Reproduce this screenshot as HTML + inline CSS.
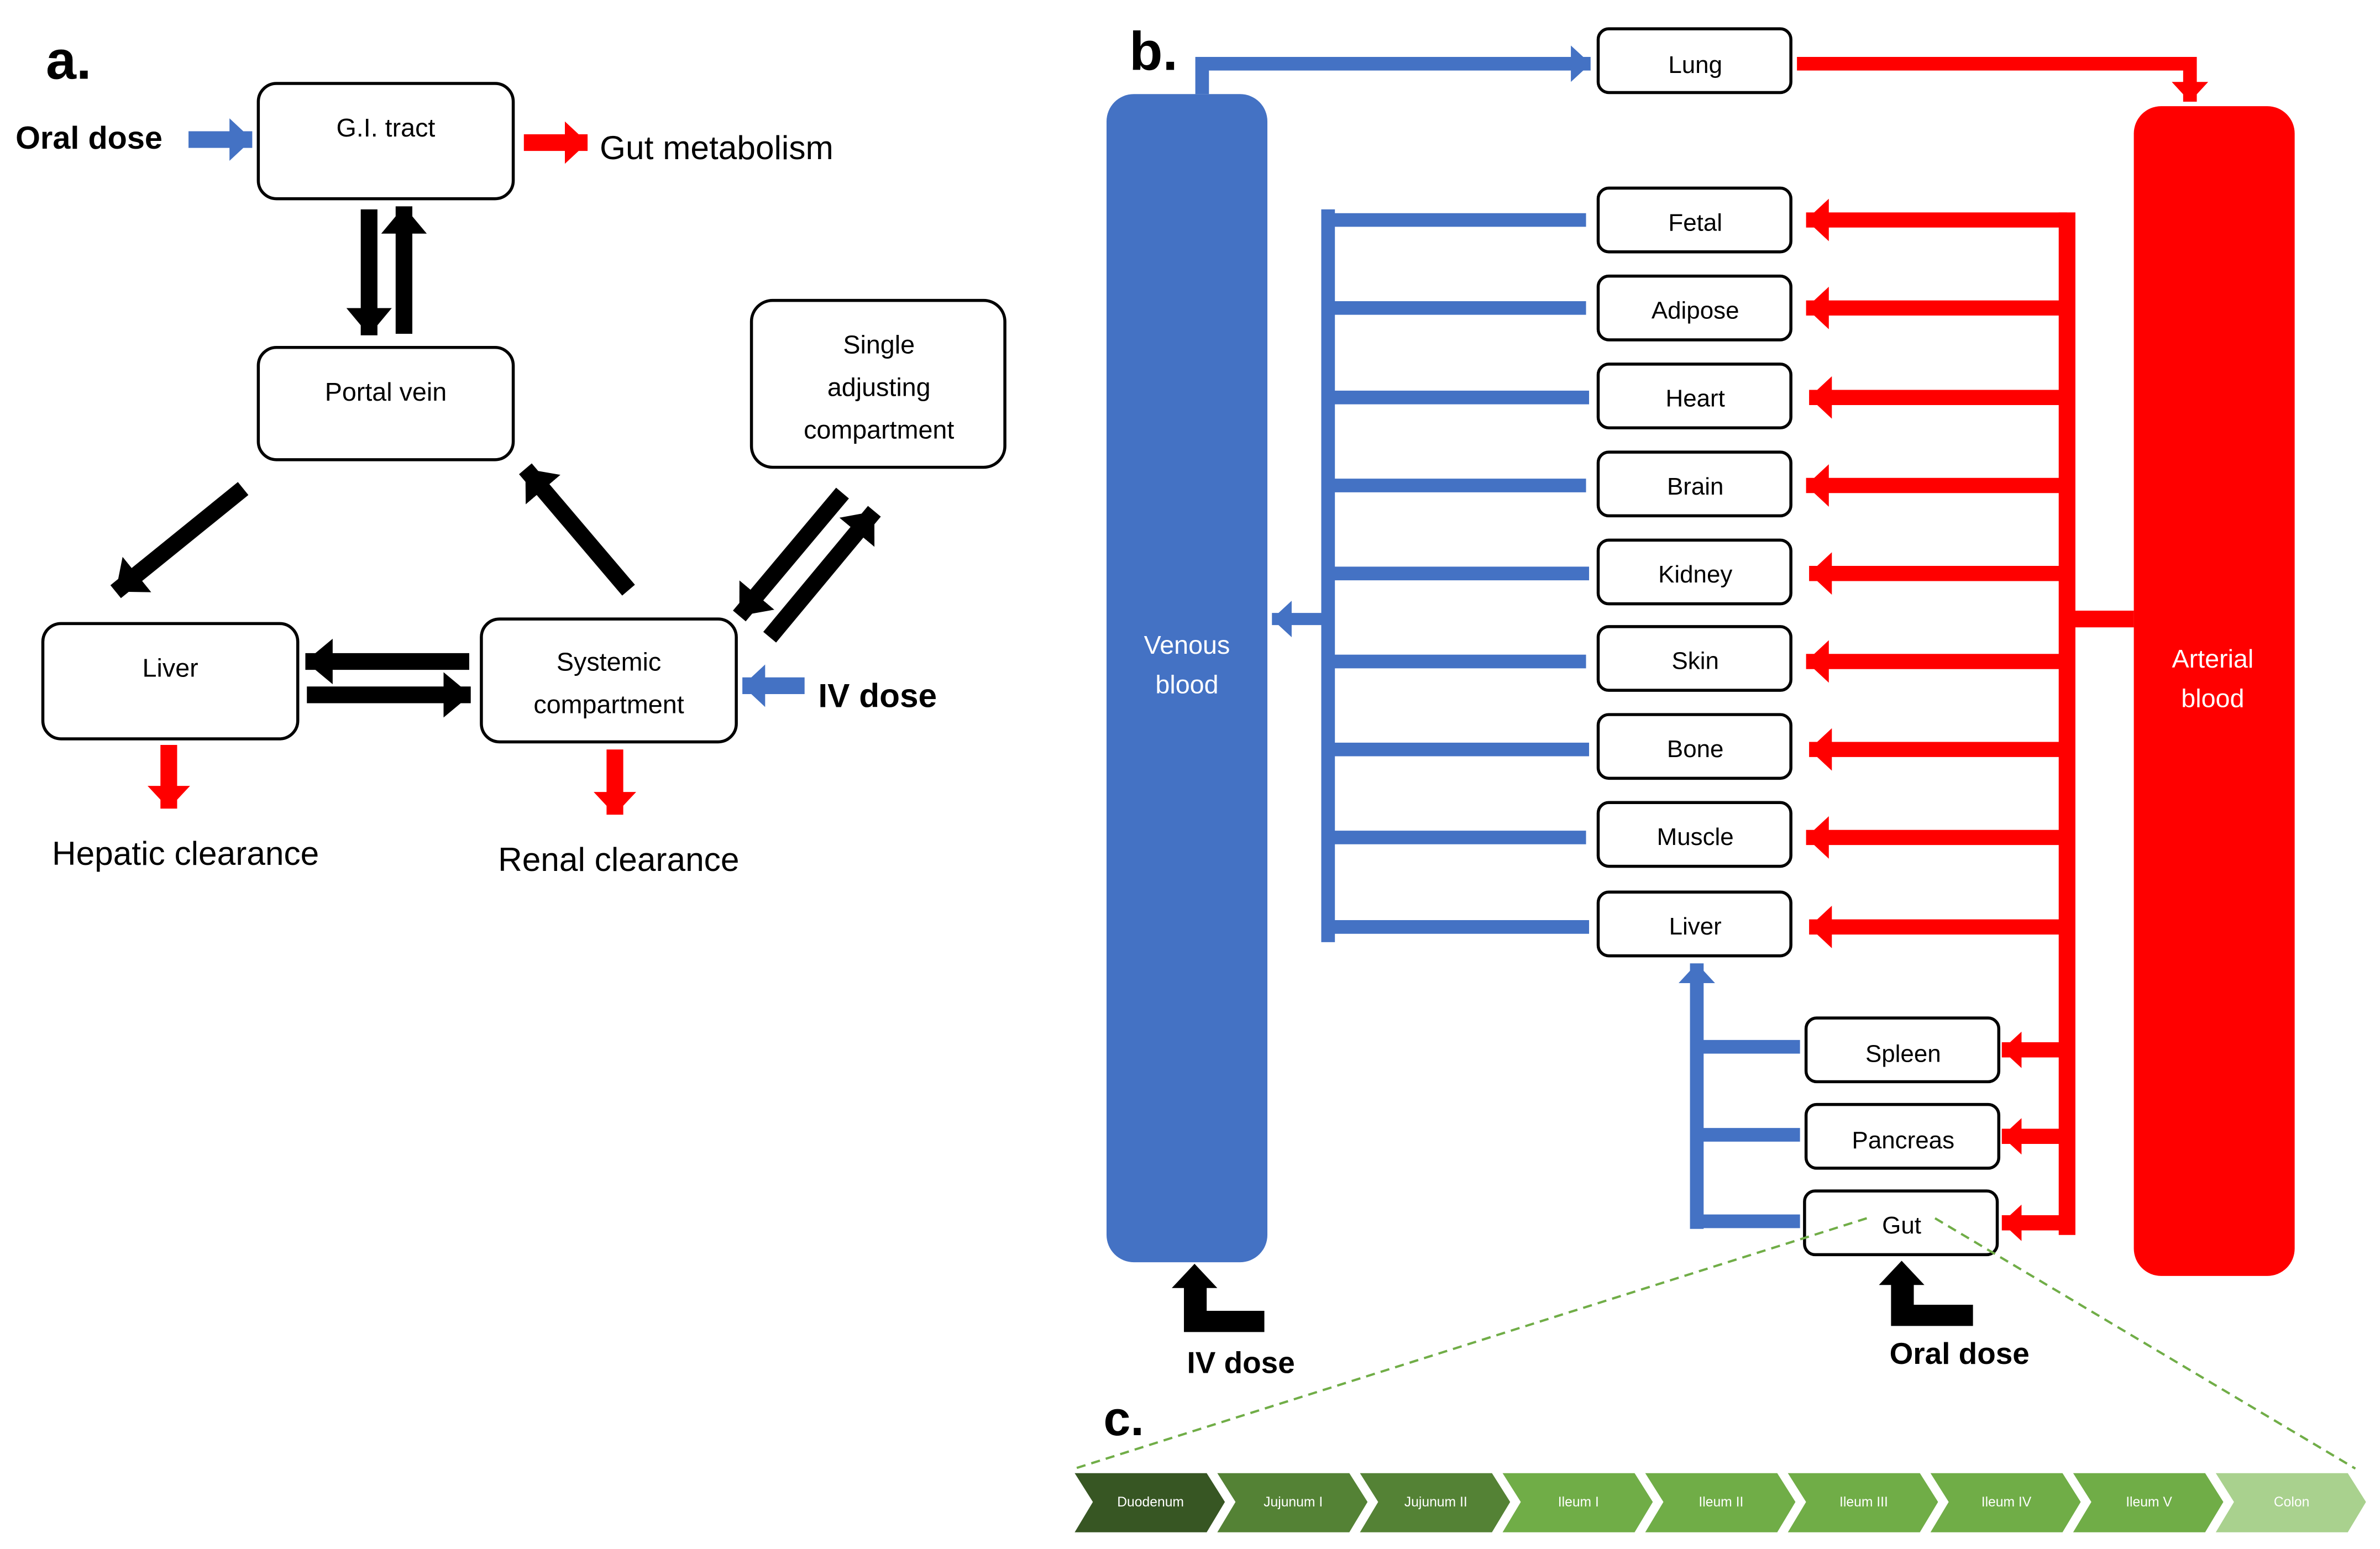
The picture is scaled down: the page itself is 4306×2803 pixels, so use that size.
<!DOCTYPE html>
<html><head><meta charset="utf-8"><style>
html,body{margin:0;padding:0;background:#fff;}
svg{display:block;}
text{font-family:"Liberation Sans","DejaVu Sans",sans-serif;}
</style></head><body>
<svg width="4306" height="2803" viewBox="0 0 1568 1021" xmlns="http://www.w3.org/2000/svg">
<defs>
<marker id="k" markerUnits="userSpaceOnUse" markerWidth="18" markerHeight="30" refX="18" refY="15" orient="auto"><path d="M0,0 L18,15 L0,30z" fill="#000"/></marker>
<marker id="b" markerUnits="userSpaceOnUse" markerWidth="15" markerHeight="28" refX="15" refY="14" orient="auto"><path d="M0,0 L15,14 L0,28z" fill="#4472C4"/></marker>
<marker id="r" markerUnits="userSpaceOnUse" markerWidth="15" markerHeight="28" refX="15" refY="14" orient="auto"><path d="M0,0 L15,14 L0,28z" fill="#FF0000"/></marker>
<marker id="rs" markerUnits="userSpaceOnUse" markerWidth="13" markerHeight="24" refX="13" refY="12" orient="auto"><path d="M0,0 L13,12 L0,24z" fill="#FF0000"/></marker>
<marker id="bs" markerUnits="userSpaceOnUse" markerWidth="13" markerHeight="24" refX="13" refY="12" orient="auto"><path d="M0,0 L13,12 L0,24z" fill="#4472C4"/></marker>
</defs>

<!-- ========== a ========== -->
<text x="30" y="52" font-size="36" font-weight="bold">a.</text>
<text x="10" y="98" font-size="21" font-weight="bold">Oral dose</text>
<line x1="124" y1="92" x2="166" y2="92" stroke="#4472C4" stroke-width="11" marker-end="url(#b)"/>
<rect x="170" y="55" width="168" height="76" rx="12" fill="#fff" stroke="#000" stroke-width="2"/>
<text x="254" y="90" font-size="17" text-anchor="middle">G.I. tract</text>
<line x1="345" y1="94" x2="387" y2="94" stroke="#f00" stroke-width="11" marker-end="url(#r)"/>
<text x="395" y="105" font-size="22">Gut metabolism</text>

<line x1="243" y1="138" x2="243" y2="221" stroke="#000" stroke-width="11" marker-end="url(#k)"/>
<line x1="266" y1="220" x2="266" y2="136" stroke="#000" stroke-width="11" marker-end="url(#k)"/>

<rect x="170" y="229" width="168" height="74" rx="12" fill="#fff" stroke="#000" stroke-width="2"/>
<text x="254" y="264" font-size="17" text-anchor="middle">Portal vein</text>

<rect x="495" y="198" width="167" height="110" rx="14" fill="#fff" stroke="#000" stroke-width="2"/>
<text x="579" y="233" font-size="17" text-anchor="middle">Single</text>
<text x="579" y="261" font-size="17" text-anchor="middle">adjusting</text>
<text x="579" y="289" font-size="17" text-anchor="middle">compartment</text>

<line x1="160" y1="322" x2="76" y2="390" stroke="#000" stroke-width="11" marker-end="url(#k)"/>
<line x1="414" y1="389" x2="346" y2="309" stroke="#000" stroke-width="11" marker-end="url(#k)"/>
<line x1="555" y1="325" x2="487" y2="406" stroke="#000" stroke-width="11" marker-end="url(#k)"/>
<line x1="507" y1="420" x2="576" y2="337" stroke="#000" stroke-width="11" marker-end="url(#k)"/>

<rect x="28" y="411" width="168" height="76" rx="12" fill="#fff" stroke="#000" stroke-width="2"/>
<text x="112" y="446" font-size="17" text-anchor="middle">Liver</text>
<rect x="317" y="408" width="168" height="81" rx="12" fill="#fff" stroke="#000" stroke-width="2"/>
<text x="401" y="442" font-size="17" text-anchor="middle">Systemic</text>
<text x="401" y="470" font-size="17" text-anchor="middle">compartment</text>

<line x1="309" y1="436" x2="201" y2="436" stroke="#000" stroke-width="11" marker-end="url(#k)"/>
<line x1="202" y1="458" x2="310" y2="458" stroke="#000" stroke-width="11" marker-end="url(#k)"/>

<line x1="530" y1="452" x2="489" y2="452" stroke="#4472C4" stroke-width="11" marker-end="url(#b)"/>
<text x="539" y="466" font-size="22" font-weight="bold">IV dose</text>

<line x1="111" y1="491" x2="111" y2="533" stroke="#f00" stroke-width="11" marker-end="url(#r)"/>
<line x1="405" y1="494" x2="405" y2="537" stroke="#f00" stroke-width="11" marker-end="url(#r)"/>
<text x="34" y="570" font-size="22">Hepatic clearance</text>
<text x="328" y="574" font-size="22">Renal clearance</text>

<!-- ========== b ========== -->
<text x="744" y="46" font-size="36" font-weight="bold">b.</text>

<rect x="729" y="62" width="106" height="770" rx="18" fill="#4472C4"/>
<text x="782" y="431" font-size="17" fill="#fff" text-anchor="middle">Venous</text>
<text x="782" y="457" font-size="17" fill="#fff" text-anchor="middle">blood</text>
<rect x="1406" y="70" width="106" height="771" rx="18" fill="#FF0000"/>
<text x="1458" y="440" font-size="17" fill="#fff" text-anchor="middle">Arterial</text>
<text x="1458" y="466" font-size="17" fill="#fff" text-anchor="middle">blood</text>

<polyline points="792,62 792,42 1048,42" fill="none" stroke="#4472C4" stroke-width="9" marker-end="url(#bs)"/>
<polyline points="1184,42 1443,42 1443,67" fill="none" stroke="#f00" stroke-width="9" marker-end="url(#rs)"/>
<rect x="1053" y="19" width="127" height="42" rx="7" fill="#fff" stroke="#000" stroke-width="2"/>
<text x="1117" y="48" font-size="16" text-anchor="middle">Lung</text>

<line x1="875" y1="138" x2="875" y2="621" stroke="#4472C4" stroke-width="9"/>
<line x1="871" y1="408" x2="838" y2="408" stroke="#4472C4" stroke-width="8" marker-end="url(#bs)"/>
<line x1="1362" y1="140" x2="1362" y2="814" stroke="#f00" stroke-width="11"/>
<line x1="1362" y1="408" x2="1406" y2="408" stroke="#f00" stroke-width="11"/>

<g stroke-width="9">
<line x1="871" y1="145" x2="1045" y2="145" stroke="#4472C4"/>
<line x1="871" y1="203" x2="1045" y2="203" stroke="#4472C4"/>
<line x1="871" y1="262" x2="1047" y2="262" stroke="#4472C4"/>
<line x1="871" y1="320" x2="1045" y2="320" stroke="#4472C4"/>
<line x1="871" y1="378" x2="1047" y2="378" stroke="#4472C4"/>
<line x1="871" y1="436" x2="1045" y2="436" stroke="#4472C4"/>
<line x1="871" y1="494" x2="1047" y2="494" stroke="#4472C4"/>
<line x1="871" y1="552" x2="1045" y2="552" stroke="#4472C4"/>
<line x1="871" y1="611" x2="1047" y2="611" stroke="#4472C4"/>
</g>
<g stroke="#f00" stroke-width="10">
<line x1="1362" y1="145" x2="1190" y2="145" marker-end="url(#r)"/>
<line x1="1362" y1="203" x2="1190" y2="203" marker-end="url(#r)"/>
<line x1="1362" y1="262" x2="1192" y2="262" marker-end="url(#r)"/>
<line x1="1362" y1="320" x2="1190" y2="320" marker-end="url(#r)"/>
<line x1="1362" y1="378" x2="1192" y2="378" marker-end="url(#r)"/>
<line x1="1362" y1="436" x2="1190" y2="436" marker-end="url(#r)"/>
<line x1="1362" y1="494" x2="1192" y2="494" marker-end="url(#r)"/>
<line x1="1362" y1="552" x2="1190" y2="552" marker-end="url(#r)"/>
<line x1="1362" y1="611" x2="1192" y2="611" marker-end="url(#r)"/>
<line x1="1362" y1="692" x2="1319" y2="692" marker-end="url(#rs)"/>
<line x1="1362" y1="749" x2="1319" y2="749" marker-end="url(#rs)"/>
<line x1="1362" y1="806" x2="1319" y2="806" marker-end="url(#rs)"/>
</g>

<g fill="#fff" stroke="#000" stroke-width="2">
<rect x="1053" y="124" width="127" height="42" rx="7"/>
<rect x="1053" y="182" width="127" height="42" rx="7"/>
<rect x="1053" y="240" width="127" height="42" rx="7"/>
<rect x="1053" y="298" width="127" height="42" rx="7"/>
<rect x="1053" y="356" width="127" height="42" rx="7"/>
<rect x="1053" y="413" width="127" height="42" rx="7"/>
<rect x="1053" y="471" width="127" height="42" rx="7"/>
<rect x="1053" y="529" width="127" height="42" rx="7"/>
<rect x="1053" y="588" width="127" height="42" rx="7"/>
<rect x="1190" y="671" width="127" height="42" rx="7"/>
<rect x="1190" y="728" width="127" height="42" rx="7"/>
<rect x="1189" y="785" width="127" height="42" rx="7"/>
</g>
<g font-size="16" text-anchor="middle">
<text x="1117" y="152">Fetal</text>
<text x="1117" y="210">Adipose</text>
<text x="1117" y="268">Heart</text>
<text x="1117" y="326">Brain</text>
<text x="1117" y="384">Kidney</text>
<text x="1117" y="441">Skin</text>
<text x="1117" y="499">Bone</text>
<text x="1117" y="557">Muscle</text>
<text x="1117" y="616">Liver</text>
<text x="1254" y="700">Spleen</text>
<text x="1254" y="757">Pancreas</text>
<text x="1253" y="813">Gut</text>
</g>

<line x1="1118" y1="810" x2="1118" y2="635" stroke="#4472C4" stroke-width="9" marker-end="url(#bs)"/>
<line x1="1118" y1="690" x2="1186" y2="690" stroke="#4472C4" stroke-width="9"/>
<line x1="1118" y1="748" x2="1186" y2="748" stroke="#4472C4" stroke-width="9"/>
<line x1="1118" y1="805" x2="1186" y2="805" stroke="#4472C4" stroke-width="9"/>

<path d="M780,848 L795,848 L795,864 L833,864 L833,878 L780,878 Z M772,849 L787,833 L802,849 Z" fill="#000"/>
<text x="782" y="905" font-size="20" font-weight="bold">IV dose</text>
<path d="M1246,846 L1261,846 L1261,860 L1300,860 L1300,874 L1246,874 Z M1238,847 L1253,831 L1268,847 Z" fill="#000"/>
<text x="1245" y="899" font-size="20" font-weight="bold">Oral dose</text>

<!-- ========== c ========== -->
<text x="727" y="946" font-size="32" font-weight="bold">c.</text>
<line x1="1230" y1="803" x2="708" y2="968" stroke="#70AD47" stroke-width="1.5" stroke-dasharray="6,4"/>
<line x1="1275" y1="803" x2="1552" y2="968" stroke="#70AD47" stroke-width="1.5" stroke-dasharray="6,4"/>

<g font-size="9" fill="#fff" text-anchor="middle">
<path d="M708,971 L795,971 L807,990 L795,1010 L708,1010 L720,990Z" fill="#375623"/>
<text x="758" y="993">Duodenum</text>
<path d="M802,971 L889,971 L901,990 L889,1010 L802,1010 L814,990Z" fill="#548235"/>
<text x="852" y="993">Jujunum I</text>
<path d="M896,971 L983,971 L995,990 L983,1010 L896,1010 L908,990Z" fill="#548235"/>
<text x="946" y="993">Jujunum II</text>
<path d="M990,971 L1077,971 L1089,990 L1077,1010 L990,1010 L1002,990Z" fill="#70AD47"/>
<text x="1040" y="993">Ileum I</text>
<path d="M1084,971 L1171,971 L1183,990 L1171,1010 L1084,1010 L1096,990Z" fill="#70AD47"/>
<text x="1134" y="993">Ileum II</text>
<path d="M1178,971 L1265,971 L1277,990 L1265,1010 L1178,1010 L1190,990Z" fill="#70AD47"/>
<text x="1228" y="993">Ileum III</text>
<path d="M1272,971 L1359,971 L1371,990 L1359,1010 L1272,1010 L1284,990Z" fill="#70AD47"/>
<text x="1322" y="993">Ileum IV</text>
<path d="M1366,971 L1453,971 L1465,990 L1453,1010 L1366,1010 L1378,990Z" fill="#70AD47"/>
<text x="1416" y="993">Ileum V</text>
<path d="M1460,971 L1547,971 L1559,990 L1547,1010 L1460,1010 L1472,990Z" fill="#A9D18E"/>
<text x="1510" y="993">Colon</text>
</g>
</svg>
</body></html>
